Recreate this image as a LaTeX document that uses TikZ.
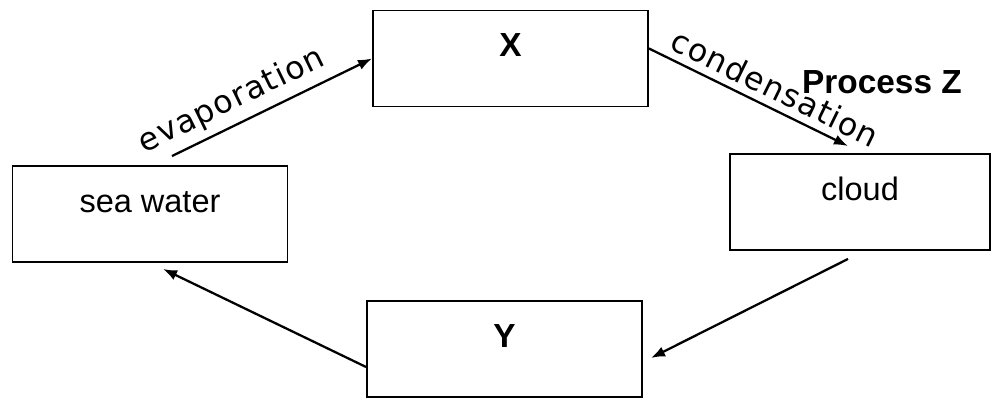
\documentclass[tikz,border=0pt]{standalone}
\usepackage{fontspec}
\setmainfont{Liberation Sans}
\newfontfamily\handfont[LetterSpace=4]{DejaVu Sans}
\usetikzlibrary{arrows.meta, positioning}

\begin{document}
\begin{tikzpicture}[x=0.02cm, y=-0.02cm,
  stage/.style={draw, line width=1.1pt, minimum width=5.5cm, minimum height=1.92cm,
                text height=14pt, text depth=16pt, inner sep=0pt,
                font=\fontsize{18.5}{22}\selectfont},
  flow/.style={line width=1.3pt, -{Latex[length=8pt,width=6pt]}},
  hand/.style={font=\handfont\fontsize{18}{22}\selectfont, sloped, above, inner sep=4pt},
  tag/.style={font=\bfseries\fontsize{19}{22}\selectfont},
]
\useasboundingbox (0,0) rectangle (994,401);

\node[stage] (sea) at (150,214) {sea water};
\node[stage, font=\bfseries\fontsize{19}{22}\selectfont] (X) at (510.5,58.5) {X};
\node[stage, minimum width=5.2cm] (cloud) at (860,202) {cloud};
\node[stage, font=\bfseries\fontsize{19}{22}\selectfont] (Y) at (504.5,349) {Y};

\node[tag] (procz) at (882,82) {Process Z};

\draw[flow] ([xshift=0.44cm, yshift=0.18cm]sea.north) -- node[hand, pos=0.35] {evaporation} (X.west);
\draw[flow] ([yshift=0.2cm]X.east) -- node[hand, pos=0.59] {condensation} ([xshift=-0.24cm, yshift=0.14cm]cloud.north);
\draw[flow] ([xshift=-0.24cm, yshift=-0.16cm]cloud.south) -- ([xshift=0.16cm, yshift=-0.18cm]Y.east);
\draw[flow] ([yshift=-0.36cm]Y.west) -- ([xshift=0.26cm, yshift=-0.12cm]sea.south);
\end{tikzpicture}
\end{document}
